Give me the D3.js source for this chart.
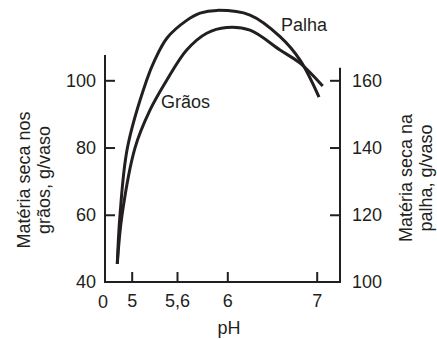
<!DOCTYPE html>
<html>
<head>
<meta charset="utf-8">
<script src="https://cdn.jsdelivr.net/npm/d3@7"></script>
<style>
  body { margin: 0; background: #fff; }
  svg text { font-family: "Liberation Sans", Arial, sans-serif; fill: #231f20; }
</style>
</head>
<body>
<svg id="chart"></svg>
<script>
// pH values
var phPalha = [4.809, 4.845, 4.944, 5.199, 5.305, 5.468, 5.68, 5.783, 5.918, 6.254, 6.59, 6.814, 7.026];
var palha = [105.4, 119.9, 140.0, 160.1, 166.0, 172.6, 177.9, 180.0, 180.8, 179.4, 173.0, 166.0, 155.0];

var phGraos = [4.809, 4.872, 5.044, 5.242, 5.464, 5.677, 5.836, 5.995, 6.254, 6.59, 6.814, 7.067];
var graos = [45.4, 59.9, 79.9, 91.1, 100.0, 109.0, 114.0, 115.7, 114.9, 109.0, 105.1, 98.3];

var xTicks = [5, 5.6, 6, 7];
var leftTicks = [40, 60, 80, 100];
var rightTicks = [100, 120, 140, 160];

document.addEventListener('DOMContentLoaded', () => {
  var size = { width: 437, height: 339 };
  var ink = '#231f20';

  var svg = d3.select('#chart')
    .attr('width', size.width)
    .attr('height', size.height);

  // the pH axis is drawn out of proportion in the original, so map it piecewise
  var x = d3.scaleLinear()
    .domain([5, 5.6, 6, 7])
    .range([131.7, 177, 227.3, 316.7]);
  var x0 = 105, x1 = 340;

  var yL = d3.scaleLinear().domain([40, 100]).range([282, 80.3]);
  var yR = d3.scaleLinear().domain([100, 160]).range([282, 80.3]);

  var fmt = d => String(d).replace('.', ',');

  // axes
  var gx = svg.append('g')
    .attr('transform', 'translate(0,282)')
    .call(d3.axisBottom(x).tickValues(xTicks).tickFormat(fmt).tickSize(-10).tickPadding(12).tickSizeOuter(0));
  var gl = svg.append('g')
    .attr('transform', `translate(${x0},0)`)
    .call(d3.axisLeft(yL).tickValues(leftTicks).tickSize(-10).tickPadding(9).tickSizeOuter(0));
  var gr = svg.append('g')
    .attr('transform', `translate(${x1},0)`)
    .call(d3.axisRight(yR).tickValues(rightTicks).tickSize(-10).tickPadding(12).tickSizeOuter(0));

  [gx, gl, gr].forEach(g => {
    g.select('.domain').remove();
    g.selectAll('line').attr('stroke', ink).attr('stroke-width', 2);
    g.selectAll('text').attr('font-size', 18).attr('fill', ink)
      .attr('font-family', '"Liberation Sans", Arial, sans-serif');
  });
  gl.selectAll('.tick').filter(d => d === 40).select('line').remove();
  gr.selectAll('.tick').filter(d => d === 100).select('line').remove();

  svg.append('path')
    .attr('d', `M${x0},${yL(107.5)}V${yL(40)}H${x1}V${yR(163.7)}`)
    .attr('fill', 'none').attr('stroke', ink).attr('stroke-width', 2);

  svg.append('text')
    .attr('x', x0 - 2).attr('y', 307.5)
    .attr('text-anchor', 'middle').attr('font-size', 18)
    .text('0');

  // curves
  var line = (sc, xs) => d3.line()
    .x((d, i) => x(xs[i]))
    .y(d => sc(d))
    .curve(d3.curveCatmullRom.alpha(0.5));

  svg.append('path')
    .attr('d', line(yR, phPalha)(palha))
    .attr('fill', 'none').attr('stroke', ink).attr('stroke-width', 3);
  svg.append('path')
    .attr('d', line(yL, phGraos)(graos))
    .attr('fill', 'none').attr('stroke', ink).attr('stroke-width', 3);

  // labels
  svg.append('text').attr('x', 281).attr('y', 31).attr('font-size', 18).text('Palha');
  svg.append('text').attr('x', 161).attr('y', 108).attr('font-size', 18).text('Grãos');
  svg.append('text').attr('x', 229).attr('y', 334).attr('text-anchor', 'middle').attr('font-size', 18).text('pH');

  var yLabel = (cx, cy, lines) => {
    var t = svg.append('text')
      .attr('transform', `translate(${cx},${cy}) rotate(-90)`)
      .attr('text-anchor', 'middle').attr('font-size', 18);
    lines.forEach((s, i) => t.append('tspan').attr('x', 0).attr('y', i * 20).text(s));
  };
  yLabel(30, 180, ['Matéria seca nos', 'grãos, g/vaso']);
  yLabel(412, 178, ['Matéria seca na', 'palha, g/vaso']);
});
</script>
</body>
</html>
